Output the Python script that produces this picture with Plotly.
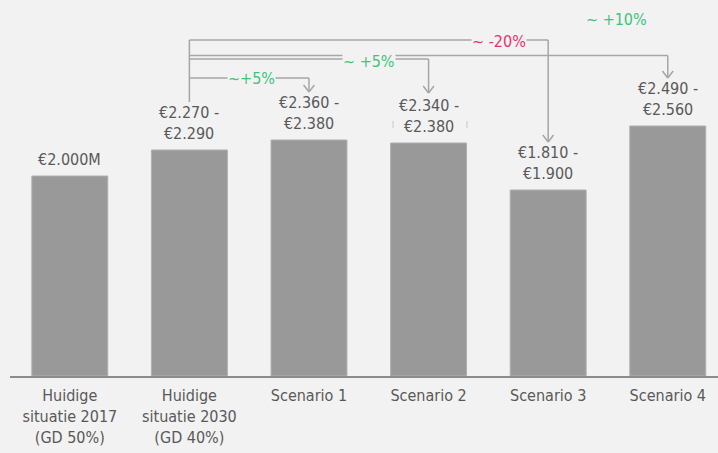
import plotly.graph_objects as go

# ---- data ----
categories = ["Huidige<br>situatie 2017<br>(GD 50%)", "Huidige<br>situatie 2030<br>(GD 40%)",
              "Scenario 1", "Scenario 2", "Scenario 3", "Scenario 4"]
bar_values = [2000, 2260, 2360, 2330, 1860, 2500]
value_labels = ["€2.000M", "€2.270 -<br>€2.290", "€2.360 -<br>€2.380",
                "€2.340 -<br>€2.380", "€1.810 -<br>€1.900", "€2.490 -<br>€2.560"]
compare_targets = [4, 5, 3, 2]
compare_labels = ["~ -20%", "~ +10%", "~ +5%", "~+5%"]

W, H = 718, 453
ML, MR, MT, MB = 10, 0, 0, 77
X0, X1 = -0.5, 5.42
Y0, Y1 = 0, 3760

BG = "#f2f2f2"
BAR = "#999999"
TXT = "#595959"
LINE = "#a6a6a6"
GREEN = "#3cc47c"
RED = "#e8336b"
FONT = "DejaVu Sans Condensed, Liberation Sans, sans-serif"


def px_x(p):
    return X0 + (p - ML) / (W - ML - MR) * (X1 - X0)


def px_y(p):
    return Y0 + (H - MB - p) / (H - MT - MB) * (Y1 - Y0)


fig = go.Figure()
fig.add_trace(go.Bar(
    x=list(range(len(categories))), y=bar_values,
    marker=dict(color=BAR, line=dict(color="#b0b0b0", width=1)),
    hoverinfo="skip",
))

for i, (v, t) in enumerate(zip(bar_values, value_labels)):
    fig.add_annotation(x=i, y=v, text=t, showarrow=False, yanchor="bottom",
                       yshift=5,
                       font=dict(family=FONT, size=16, color=TXT))

shapes = []


def seg(x0, y0, x1, y1):
    shapes.append(dict(type="line", xref="x", yref="y", x0=x0, y0=y0, x1=x1, y1=y1,
                       line=dict(color=LINE, width=1.5)))


def arrow_head(x, ytip):
    dx = 0.045
    dy = 70
    seg(x - dx, ytip + dy, x, ytip)
    seg(x + dx, ytip + dy, x, ytip)


src = 1
levels = [px_y(40), px_y(55.5), px_y(59), px_y(78)]
tips = [px_y(142), px_y(78), px_y(93), px_y(92)]
seg(src, px_y(102), src, levels[0])
for tgt, lvl, tip in zip(compare_targets, levels, tips):
    seg(src, lvl, tgt, lvl)
    seg(tgt, lvl, tgt, tip)
    arrow_head(tgt, tip)

for p in (393, 467):
    shapes.append(dict(type="line", xref="x", yref="y", x0=px_x(p), x1=px_x(p),
                       y0=px_y(121), y1=px_y(128), line=dict(color="#c8c8c8", width=1)))

label_pos = [(499, 41), (616, 19), (369, 61), (251, 78)]
label_col = [RED, GREEN, GREEN, GREEN]
for t, (lx, ly), c in zip(compare_labels, label_pos, label_col):
    fig.add_annotation(x=px_x(lx), y=px_y(ly), text=t, showarrow=False,
                       bgcolor=BG, borderpad=0,
                       font=dict(family=FONT, size=16, color=c))

fig.update_layout(
    width=W, height=H,
    margin=dict(l=ML, r=MR, t=MT, b=MB, pad=0),
    paper_bgcolor=BG, plot_bgcolor=BG,
    showlegend=False, bargap=0.365,
    shapes=shapes,
    font=dict(family=FONT, color=TXT),
)
fig.update_xaxes(range=[X0, X1], tickmode="array", tickvals=list(range(len(categories))),
                 ticktext=categories, showgrid=False, zeroline=False,
                 showline=True, linecolor="#8c8c8c", linewidth=1.5,
                 tickfont=dict(family=FONT, size=16, color=TXT), ticks="",
                 ticklabelstandoff=4, fixedrange=True)
fig.update_yaxes(range=[Y0, Y1], visible=False, showgrid=False, zeroline=False, fixedrange=True)

fig.write_html("out.html", config={"displayModeBar": False},
               post_script="document.body.style.margin='0';document.body.style.background='#f2f2f2';")
